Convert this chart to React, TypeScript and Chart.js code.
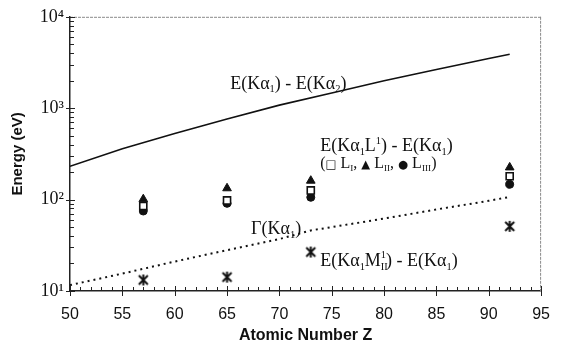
import React, { useEffect, useRef } from 'react';
import { Chart, registerables } from 'chart.js';

Chart.register(...registerables);

// ---- data ----
const splitZ = [50, 55, 60, 65, 70, 75, 80, 85, 90, 92];
const splitKa = [231, 360, 530, 760, 1080, 1470, 2000, 2650, 3500, 3900];

const widthZ = [50, 55, 57, 60, 65, 70, 73, 75, 80, 85, 90, 92];
const widthKa = [11.6, 15.5, 17.5, 21, 28, 37, 46, 50, 62, 78, 97, 107];

const satZ = [57, 65, 73, 92];
const satLI = [85, 98, 126, 180];
const satLII = [101, 133, 161, 225];
const satLIII = [75, 91, 106, 147];
const satMII = [13.2, 14.2, 26.7, 51];

const xMin = 50;
const xMax = 95;
const xStep = 5;
const yPowers = [1, 2, 3, 4];
const supDigits: Record<number, string> = { 1: '¹', 2: '²', 3: '³', 4: '⁴' };

type Part = [string, string];
const annotations: { z: number; v: number; size: number; parts: Part[] }[] = [
  { z: 65.3, v: 1905, size: 18, parts: [['E(Kα', ''], ['1', 'sub'], [') - E(Kα', ''], ['2', 'sub'], [')', '']] },
  { z: 73.9, v: 392, size: 18, parts: [['E(Kα', ''], ['1', 'sub'], ['L', ''], ['1', 'sup'], [') - E(Kα', ''], ['1', 'sub'], [')', '']] },
  { z: 73.9, v: 255, size: 16, parts: [['(', ''], ['□', 'sym'], [' L', ''], ['I', 'sub'], [', ', ''], ['▲', 'sym'], [' L', ''], ['II', 'sub'], [', ', ''], ['●', 'sym'], [' L', ''], ['III', 'sub'], [')', '']] },
  { z: 67.3, v: 48.6, size: 18, parts: [['Γ(Kα', ''], ['1', 'sub'], [')', '']] },
  { z: 73.9, v: 21.8, size: 18, parts: [['E(Kα', ''], ['1', 'sub'], ['M', ''], ['II', 'sub'], ['1', 'supc'], [') - E(Kα', ''], ['1', 'sub'], [')', '']] },
];

const pts = (xs: number[], ys: number[]) => xs.map((x, i) => ({ x, y: ys[i] }));

function makeAsterisk(): HTMLCanvasElement {
  const c = document.createElement('canvas');
  c.width = 13;
  c.height = 13;
  const g = c.getContext('2d')!;
  g.strokeStyle = '#111';
  g.lineWidth = 2;
  g.lineCap = 'butt';
  g.beginPath();
  g.moveTo(2, 2); g.lineTo(11, 11);
  g.moveTo(11, 2); g.lineTo(2, 11);
  g.moveTo(6.5, 1); g.lineTo(6.5, 12);
  g.stroke();
  return c;
}

function drawRich(ctx: CanvasRenderingContext2D, x: number, yc: number, parts: Part[], size: number) {
  let cx = x;
  const base = yc + size * 0.33;
  ctx.fillStyle = '#111';
  ctx.textBaseline = 'alphabetic';
  ctx.textAlign = 'left';
  let lastW = 0;
  for (const [t, k] of parts) {
    let fs = size;
    let dy = 0;
    let fam = '"Liberation Serif", serif';
    if (k === 'sub') { fs = size * 0.58; dy = size * 0.2; }
    else if (k === 'sup') { fs = size * 0.58; dy = -size * 0.42; }
    else if (k === 'supc') { fs = size * 0.58; dy = -size * 0.42; cx -= lastW; }
    else if (k === 'sym') { fs = size * 0.72; fam = '"DejaVu Sans", sans-serif'; }
    ctx.font = `${fs}px ${fam}`;
    ctx.fillText(t, cx, base + dy);
    const w = ctx.measureText(t).width;
    cx += w;
    lastW = w;
  }
}

const decorPlugin = {
  id: 'decor',
  afterDraw(chart: any) {
    const { ctx, chartArea, scales } = chart;
    const { left, right, top, bottom } = chartArea;
    const xs = scales.x;
    const ys = scales.y;
    ctx.save();
    ctx.strokeStyle = '#8a8a8a';
    ctx.lineWidth = 1;
    ctx.setLineDash([3, 1]);
    ctx.beginPath();
    ctx.moveTo(left, top + 0.5);
    ctx.lineTo(right, top + 0.5);
    ctx.moveTo(right - 0.5, top);
    ctx.lineTo(right - 0.5, bottom);
    ctx.stroke();
    ctx.setLineDash([]);
    ctx.strokeStyle = '#222';
    ctx.lineWidth = 1;
    ctx.beginPath();
    for (let z = xMin; z <= xMax; z++) {
      const px = Math.round(xs.getPixelForValue(z)) + 0.5;
      const major = z % xStep === 0;
      ctx.moveTo(px, bottom + (major ? 5 : 0));
      ctx.lineTo(px, bottom - (major ? 5 : 4));
    }
    for (const p of yPowers) {
      for (let m = 1; m <= 9; m++) {
        const v = m * Math.pow(10, p);
        if (v > 10000.001) break;
        const py = Math.round(ys.getPixelForValue(v)) + 0.5;
        const major = m === 1;
        ctx.moveTo(left - (major ? 4 : 0), py);
        ctx.lineTo(left + (major ? 5 : 4), py);
      }
    }
    ctx.stroke();
    for (const a of annotations) {
      drawRich(ctx, xs.getPixelForValue(a.z), ys.getPixelForValue(a.v), a.parts, a.size);
    }
    ctx.restore();
  },
};

export default function App() {
  const ref = useRef<HTMLCanvasElement | null>(null);
  useEffect(() => {
    if (!ref.current) return;
    const asterisk = makeAsterisk();
    const chart = new Chart(ref.current, {
      type: 'scatter',
      data: {
        datasets: [
          {
            type: 'line',
            label: 'E(Kα1) - E(Kα2)',
            data: pts(splitZ, splitKa),
            borderColor: '#111',
            borderWidth: 1.6,
            pointRadius: 0,
            tension: 0,
            fill: false,
            order: 5,
          },
          {
            type: 'line',
            label: 'Γ(Kα1)',
            data: pts(widthZ, widthKa),
            borderColor: '#111',
            borderWidth: 2,
            borderDash: [2, 4],
            pointRadius: 0,
            tension: 0,
            fill: false,
            order: 6,
          },
          {
            label: 'L_III',
            data: pts(satZ, satLIII),
            pointStyle: 'circle',
            pointRadius: 4,
            backgroundColor: '#111',
            borderColor: '#111',
            borderWidth: 1,
            order: 3,
          },
          {
            label: 'L_II',
            data: pts(satZ, satLII),
            pointStyle: 'triangle',
            pointRadius: 5,
            backgroundColor: '#111',
            borderColor: '#111',
            borderWidth: 1,
            order: 2,
          },
          {
            label: 'L_I',
            data: pts(satZ, satLI),
            pointStyle: 'rect',
            pointRadius: 5,
            backgroundColor: '#fff',
            borderColor: '#111',
            borderWidth: 1.6,
            order: 1,
          },
          {
            label: 'M_II',
            data: pts(satZ, satMII),
            pointStyle: asterisk,
            pointRadius: 6,
            order: 4,
          },
        ],
      } as any,
      options: {
        responsive: false,
        animation: false,
        layout: { padding: { top: 16, right: 8, left: 0, bottom: 1 }, autoPadding: false } as any,
        plugins: { legend: { display: false }, tooltip: { enabled: false } },
        scales: {
          x: {
            type: 'linear',
            min: xMin,
            max: xMax,
            grid: { display: false, drawTicks: false },
            border: { display: true, color: '#222', width: 1.5 },
            ticks: {
              stepSize: xStep,
              padding: 14,
              color: '#111',
              maxRotation: 0,
              autoSkip: false,
              font: { family: '"Liberation Sans", Arial, sans-serif', size: 16 },
            },
            title: {
              display: true,
              text: 'Atomic Number Z',
              color: '#111',
              font: { family: '"Liberation Sans", Arial, sans-serif', size: 16, weight: 'bold' },
              padding: { top: 0, bottom: 1 },
            },
            afterFit: (s: any) => { s.height = 55; },
          },
          y: {
            type: 'logarithmic',
            min: 10,
            max: 10000,
            grid: { display: false, drawTicks: false },
            border: { display: true, color: '#222', width: 1.5 },
            ticks: {
              autoSkip: false,
              padding: 6,
              color: '#111',
              font: { family: '"Liberation Serif", serif', size: 18 },
              callback: (val: any) => {
                const v = Number(val);
                const p = Math.round(Math.log10(v));
                if (yPowers.includes(p) && Math.abs(v - Math.pow(10, p)) < 1e-6 * v) return '10' + supDigits[p];
                return '';
              },
            },
            title: {
              display: true,
              text: 'Energy (eV)',
              color: '#111',
              font: { family: '"Liberation Sans", Arial, sans-serif', size: 15, weight: 'bold' },
              padding: { top: 9, bottom: 0 },
            },
            afterFit: (s: any) => { s.width = 70; },
          },
        },
      } as any,
      plugins: [decorPlugin],
    });
    return () => chart.destroy();
  }, []);
  return (
    <div style={{ position: 'fixed', left: 0, top: 0, width: 564, height: 347, background: '#fff' }}>
      <canvas ref={ref} width={564} height={347} style={{ display: 'block', width: 564, height: 347 }} />
    </div>
  );
}
